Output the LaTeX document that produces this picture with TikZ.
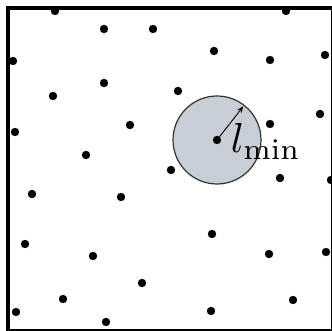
\documentclass[tikz,border=0pt]{standalone}
\usepackage{amsmath, amssymb}
\usepackage{tikz}
\usetikzlibrary{arrows.meta, calc}
\usepackage{xcolor}
\definecolor{discgray}{RGB}{201,205,213}

\begin{document}
\begin{tikzpicture}[x=1pt, y=1pt, >=Stealth]
  \useasboundingbox (0, 0) rectangle (332, 331);
  \draw[line width=4pt] (8, -0.5) rectangle (332.5, 323);

  % exclusion disc around one sample
  \coordinate (c) at (217, 191);
  \draw[fill=discgray, draw=black!80, line width=1.2pt] (c) circle (44);
  \coordinate (rim) at ($(c)+(52:43)$);
  \draw[->, line width=0.9pt] (c) -- (rim);
  \fill (c) circle (4.2);
  \node[anchor=base west, inner sep=0pt, scale=4.2] (lab) at (230, 178) {$l_{\min}$};

  % remaining samples
  \foreach \x/\y in {55/320, 104/302, 153/302, 13/270, 104/248, 53/235, 130/206, 15/199, 86/176,
                     286/320, 214/280, 325/276, 270/271, 178/240, 320/217, 270/207,
                     32/137, 121/134, 25/87, 93/75, 142/48, 63/32, 16/19, 106/9,
                     171/161, 280/153, 331/151, 212/97, 269/77, 326/79, 293/31, 211/20}
    \fill (\x, \y) circle (4.2);
\end{tikzpicture}
\end{document}
